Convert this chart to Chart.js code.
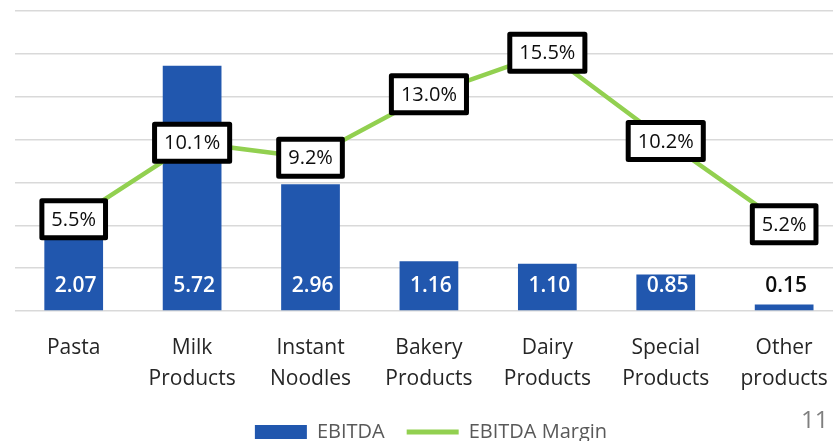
<!DOCTYPE html>
<html><head><meta charset="utf-8">
<script src="https://cdn.jsdelivr.net/npm/chart.js@4/dist/chart.umd.min.js"></script>
<style>
html,body{margin:0;padding:0;background:#fff;overflow:hidden;width:833px;height:441px;}
#wrap{position:absolute;left:0;top:0;width:850px;height:452px;}
#pg{position:absolute;left:801px;top:402px;font:24px "Open Sans";color:#7f7f7f;}
</style></head><body>
<div id="wrap"><canvas id="c"></canvas></div>
<div id="pg">11</div>
<script>
const categories = [["Pasta"], ["Milk", "Products"], ["Instant", "Noodles"], ["Bakery", "Products"], ["Dairy", "Products"], ["Special", "Products"], ["Other", "products"]];
const ebitda = [2.07, 5.72, 2.96, 1.16, 1.10, 0.85, 0.15];
const ebitdaMargin = [5.5, 10.1, 9.2, 13.0, 15.5, 10.2, 5.2];
const seriesNames = ["EBITDA", "EBITDA Margin"];

const BAR = '#2157AE', GREEN = '#92D050';
const FONT = '"Open Sans", "DejaVu Sans", sans-serif';

const labelPlugin = {
  id: 'valueLabels',
  afterDatasetsDraw(chart) {
    const ctx = chart.ctx;
    ctx.save();
    const bm = chart.getDatasetMeta(0);
    ctx.textAlign = 'center';
    ctx.textBaseline = 'middle';
    ctx.font = '600 21px ' + FONT;
    bm.data.forEach((bar, i) => {
      const h = bar.base - bar.y;
      ctx.fillStyle = h > 30 ? '#ffffff' : '#0d0d0d';
      ctx.fillText(ebitda[i].toFixed(2), bar.x + 2, bar.base - 24);
    });
    const lm = chart.getDatasetMeta(1);
    ctx.font = '20px ' + FONT;
    lm.data.forEach((pt, i) => {
      const t = ebitdaMargin[i].toFixed(1) + '%';
      const w = ctx.measureText(t).width + 14 + 5;
      const hgt = 37;
      ctx.fillStyle = '#ffffff';
      ctx.strokeStyle = '#000000';
      ctx.lineWidth = 5;
      ctx.lineJoin = 'round';
      ctx.beginPath();
      ctx.rect(pt.x - w / 2, pt.y - hgt / 2, w, hgt);
      ctx.fill();
      ctx.stroke();
      ctx.fillStyle = '#0d0d0d';
      ctx.fillText(t, pt.x, pt.y + 1);
    });
    ctx.restore();
  }
};

new Chart(document.getElementById('c'), {
  data: {
    labels: categories,
    datasets: [
      { type: 'bar', label: seriesNames[0], data: ebitda, backgroundColor: BAR, yAxisID: 'y',
        categoryPercentage: 1, barPercentage: 0.496, order: 2 },
      { type: 'line', label: seriesNames[1], data: ebitdaMargin, borderColor: GREEN, backgroundColor: GREEN,
        borderWidth: 4.5, pointRadius: 0, tension: 0, yAxisID: 'y2', order: 1 }
    ]
  },
  options: {
    responsive: true,
    maintainAspectRatio: false,
    animation: false,
    layout: { padding: { left: 14.5, right: 2.5, top: 11, bottom: 0 } },
    plugins: {
      tooltip: { enabled: false },
      legend: {
        position: 'bottom',
        labels: {
          usePointStyle: true,
          pointStyleWidth: 52,
          boxHeight: 14,
          padding: 22,
          color: '#595959',
          font: { family: FONT, size: 20 },
          generateLabels: (chart) => [
            { text: seriesNames[0], fillStyle: BAR, strokeStyle: BAR, lineWidth: 0, pointStyle: 'rect', datasetIndex: 0, hidden: false, fontColor: '#595959' },
            { text: seriesNames[1], fillStyle: GREEN, strokeStyle: GREEN, lineWidth: 5, pointStyle: 'line', datasetIndex: 1, hidden: false, fontColor: '#595959' }
          ]
        }
      }
    },
    scales: {
      x: {
        grid: { display: false, drawTicks: false },
        border: { display: false },
        ticks: { color: '#262626', font: { family: FONT, size: 21, lineHeight: '31px' }, padding: 22, maxRotation: 0, autoSkip: false },
        afterFit: (s) => { s.height = 89; }
      },
      y: {
        min: 0, max: 7,
        ticks: { display: false, stepSize: 1 },
        grid: { color: '#d9d9d9', lineWidth: 1.5, drawTicks: false },
        border: { display: false }
      },
      y2: {
        position: 'right', min: 0, max: 18,
        display: false,
        grid: { display: false }
      }
    }
  },
  plugins: [labelPlugin]
});
</script>
</body></html>
